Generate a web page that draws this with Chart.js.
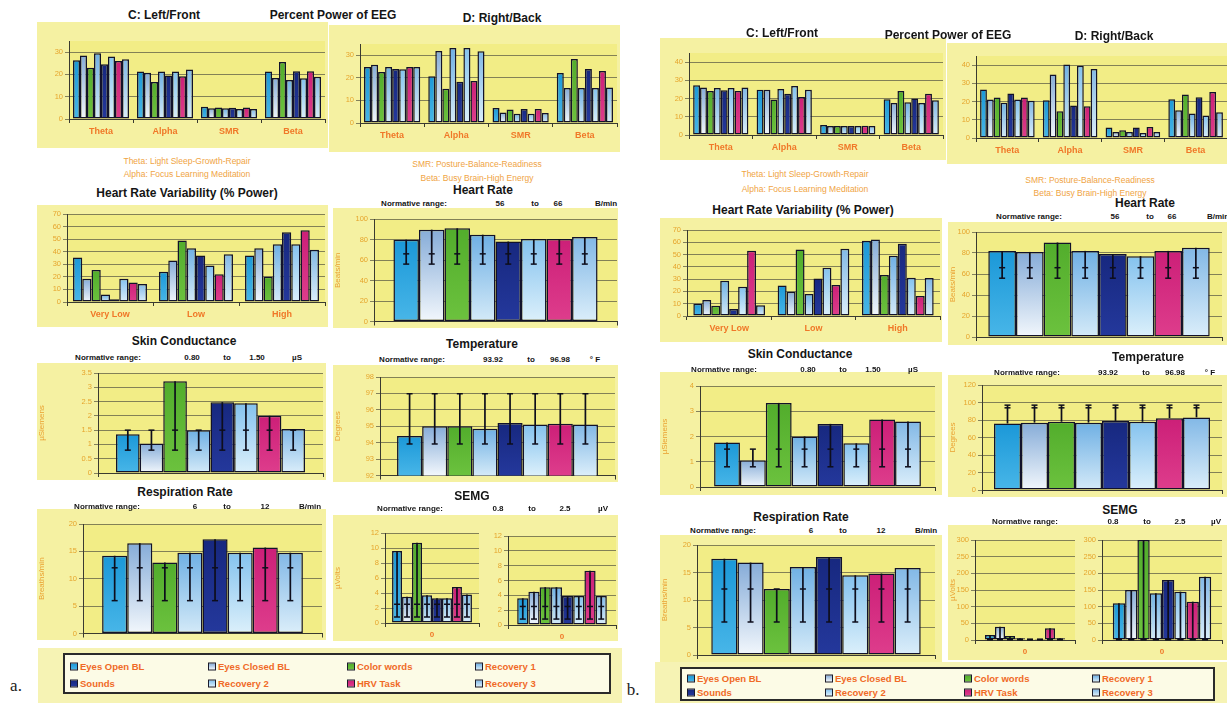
<!DOCTYPE html>
<html>
<head>
<meta charset="utf-8">
<script src="https://cdn.jsdelivr.net/npm/chart.js@4.4.1/dist/chart.umd.min.js"></script>
<style>
html,body{margin:0;padding:0;background:#fff;}
body{width:1227px;height:703px;position:relative;overflow:hidden;font-family:"Liberation Sans",Arial,sans-serif;}
canvas{position:absolute;background:#f5f1a2;}
.t{position:absolute;transform:translate(-50%,-50%);white-space:nowrap;}
.title{font-weight:bold;font-size:12px;color:#151515;}
.norm{font-weight:bold;font-size:8px;color:#151515;}
.cap{font-size:8.5px;color:#f0a444;}
.panel{font-family:"Liberation Serif","DejaVu Serif",serif;font-size:17px;color:#222;}
.legwrap{position:absolute;background:#f6f3b4;}
.legbox{position:absolute;border:2px solid #2a2a2a;background:#fcfbe6;box-sizing:border-box;}
.legitem{position:absolute;transform:translateY(-50%);font-weight:bold;font-size:9.5px;color:#f06a26;white-space:nowrap;}
.legitem i{display:inline-block;width:6px;height:6px;border:1px solid #1a1a2a;margin-right:2px;vertical-align:-1px;}
</style>
</head>
<body>
<script>
// ---- series and categories ----
const seriesNames = ['Eyes Open BL','Eyes Closed BL','Color words','Recovery 1','Sounds','Recovery 2','HRV Task','Recovery 3'];
const eegBands = ['Theta','Alpha','SMR','Beta'];
const hrvBands = ['Very Low','Low','High'];

// ---- normative ranges ----
const hrNorm = [56, 66];
const scNorm = [0.8, 1.5];
const tempNorm = [93.92, 96.98];
const respNorm = [6, 12];
const semgNorm = [0.8, 2.5];

// ---- panel a (values per band, in series order) ----
const aLeftFront = [
  [26.4, 28.5, 23.0, 29.5, 24.6, 28.0, 26.0, 26.8],
  [21.3, 20.7, 16.6, 21.3, 19.5, 21.3, 19.2, 22.2],
  [5.5, 4.8, 5.2, 4.8, 5.1, 4.5, 5.2, 4.5],
  [21.3, 18.4, 25.6, 17.5, 21.4, 18.3, 21.4, 19.0]
];
const aRightBack = [
  [24.8, 25.8, 22.6, 24.8, 23.9, 23.8, 24.8, 24.8],
  [20.7, 31.9, 15.2, 33.2, 18.3, 33.2, 18.6, 31.8],
  [6.6, 4.7, 6.0, 4.1, 6.2, 4.1, 6.2, 4.4],
  [22.2, 15.5, 28.4, 15.5, 23.9, 15.5, 23.0, 15.7]
];
const aHrv = [
  [35.3, 18.4, 25.4, 5.9, 2.1, 18.4, 15.5, 14.4],
  [24.0, 33.0, 49.0, 42.8, 37.0, 29.0, 22.0, 38.0],
  [37.0, 42.8, 20.0, 46.0, 55.5, 46.0, 57.0, 41.5]
];
const aHeartRate = [79.8, 89.6, 90.9, 84.7, 78.0, 80.5, 80.5, 82.4];
const aSkin = [1.36, 1.03, 3.21, 1.50, 2.48, 2.44, 2.00, 1.54];
const aTemp = [94.4, 95.0, 95.0, 94.85, 95.2, 95.1, 95.15, 95.1];
const aResp = [14.2, 16.5, 12.95, 14.75, 17.2, 14.75, 15.7, 14.75];
const aSemgLeft = [9.6, 3.5, 10.7, 3.7, 3.3, 3.3, 4.8, 3.8];
const aSemgRight = [3.6, 4.5, 5.1, 5.1, 3.9, 3.9, 7.3, 3.9];

// ---- panel b ----
const bLeftFront = [
  [27.3, 26.0, 24.2, 25.8, 24.5, 25.8, 24.2, 26.0],
  [24.9, 24.9, 19.5, 25.3, 22.7, 26.9, 20.9, 24.9],
  [5.5, 4.9, 4.9, 4.9, 4.9, 4.9, 5.1, 4.9],
  [19.6, 17.6, 24.2, 18.0, 20.0, 17.6, 22.7, 19.1]
];
const bRightBack = [
  [26.6, 21.1, 22.2, 19.3, 24.4, 21.1, 22.2, 20.4],
  [20.7, 34.9, 14.7, 40.4, 17.8, 39.6, 17.4, 37.8],
  [5.7, 3.3, 4.2, 3.3, 5.7, 2.8, 6.1, 3.3],
  [21.3, 15.2, 23.9, 13.4, 22.4, 12.3, 25.3, 14.1]
];
const bHrv = [
  [10.0, 13.0, 8.4, 28.7, 5.7, 23.8, 53.1, 8.7],
  [24.9, 19.8, 54.2, 17.9, 30.6, 39.3, 25.2, 54.7],
  [61.2, 62.3, 33.3, 49.0, 58.8, 31.2, 16.3, 30.9]
];
const bHeartRate = [82, 81, 90, 82, 79, 77, 82, 85];
const bSkin = [1.76, 1.06, 3.33, 2.00, 2.50, 1.73, 2.67, 2.59];
const bTemp = [76, 77, 78, 77, 79, 78, 82, 83];
const bResp = [17.5, 16.8, 12.0, 16.0, 17.8, 14.5, 14.8, 15.8];
const bSemgLeft = [15, 40, 12, 5, 2, 3, 35, 5];
const bSemgRight = [110, 150, 300, 140, 180, 145, 115, 190];

// ---- styling ----
const seriesFill = [
  ['#1b98d8', '#48b6e8'],
  ['#86acd8', '#f2f7fc'],
  ['#52ad2c', '#6cc23e'],
  ['#6fb0e4', '#d4eaf8'],
  ['#17287f', '#24389c'],
  ['#84c2ee', '#dcf0fb'],
  ['#cc1f78', '#de3d8c'],
  ['#82b8e6', '#dbeefa']
];
const tickColor = '#e6a52c';
const catColor = '#f07828';

Chart.defaults.font.family = '"Liberation Sans", Arial, sans-serif';

// fill the plot area a little deeper than the surrounding panel
const plotFill = {
  id: 'plotFill',
  beforeDraw(chart) {
    const { ctx, chartArea: a } = chart;
    ctx.save();
    ctx.fillStyle = '#f2ed86';
    ctx.fillRect(a.left, a.top, a.right - a.left, a.bottom - a.top);
    ctx.restore();
  }
};

// normative-range whiskers drawn over each bar
const normRange = {
  id: 'normRange',
  afterDatasetsDraw(chart, args, opts) {
    if (!opts || opts.low == null) return;
    const { ctx } = chart;
    const y = chart.scales.y;
    ctx.save();
    ctx.strokeStyle = '#0e0e1c';
    chart.data.datasets.forEach((ds, i) => {
      chart.getDatasetMeta(i).data.forEach((el, j) => {
        const v = ds.data[j];
        const lo = Math.min(v, opts.low), hi = Math.max(v, opts.high);
        const x = el.x;
        ctx.lineWidth = 1.7;
        ctx.beginPath();
        ctx.moveTo(x, y.getPixelForValue(lo));
        ctx.lineTo(x, y.getPixelForValue(hi));
        ctx.stroke();
        ctx.lineWidth = 1.5;
        [opts.low, opts.high].forEach(c => {
          const py = y.getPixelForValue(c);
          ctx.beginPath();
          ctx.moveTo(x - 3, py);
          ctx.lineTo(x + 3, py);
          ctx.stroke();
        });
      });
    });
    ctx.restore();
  }
};

function fmt(v) {
  return String(Math.round(v * 100) / 100);
}

function makeChart(cfg) {
  const { box, plot } = cfg;
  const cv = document.createElement('canvas');
  cv.width = box.w; cv.height = box.h;
  cv.style.left = box.x + 'px'; cv.style.top = box.y + 'px';
  cv.style.width = box.w + 'px'; cv.style.height = box.h + 'px';
  document.body.appendChild(cv);

  const padTop = plot.t - box.y;
  const padRight = box.x + box.w - plot.r;
  const yw = plot.l - box.x;
  const xh = box.y + box.h - plot.b;
  const grouped = cfg.labels.length > 1;

  const datasets = seriesNames.map((name, i) => ({
    label: name,
    data: grouped ? cfg.values.map(row => row[i]) : [cfg.values[i]],
    backgroundColor: (ctx) => {
      const [c0, c1] = seriesFill[i];
      const ys = ctx.chart.scales && ctx.chart.scales.y;
      if (!ys || ctx.raw == null) return c0;
      const top = ys.getPixelForValue(ctx.raw);
      const bot = ys.getPixelForValue(cfg.min);
      if (!isFinite(top) || !isFinite(bot) || Math.abs(bot - top) < 1) return c0;
      const g = ctx.chart.ctx.createLinearGradient(0, top, 0, bot);
      g.addColorStop(0, c0);
      g.addColorStop(1, c1);
      return g;
    },
    borderColor: '#12122a',
    borderWidth: 1.5,
    borderSkipped: false
  }));

  const step = cfg.step;
  new Chart(cv, {
    type: 'bar',
    data: { labels: cfg.labels, datasets },
    options: {
      responsive: false,
      animation: false,
      devicePixelRatio: 1,
      layout: { padding: { top: padTop, right: padRight, left: 0, bottom: 0 } },
      datasets: { bar: { categoryPercentage: cfg.catPct, barPercentage: 1 } },
      plugins: {
        legend: { display: false },
        tooltip: { enabled: false },
        normRange: cfg.norm ? { low: cfg.norm[0], high: cfg.norm[1] } : false
      },
      scales: {
        x: {
          grid: { display: true, drawOnChartArea: false, offset: true, tickLength: 4, color: '#3a3a30' },
          border: { color: '#3a3a30', width: 1 },
          ticks: {
            display: cfg.showX !== false,
            color: catColor,
            font: { size: cfg.catSize || 9, weight: 'bold' },
            padding: 3,
            maxRotation: 0,
            autoSkip: false
          },
          afterFit: s => { s.height = xh; }
        },
        y: {
          min: cfg.min,
          max: cfg.max,
          grid: { color: '#66654a', lineWidth: 0.8, tickLength: 4 },
          border: { color: '#3a3a30', width: 1 },
          ticks: { stepSize: step, color: tickColor, font: { size: 7.5 }, padding: 2, callback: v => fmt(v) },
          title: {
            display: !!cfg.yTitle,
            text: cfg.yTitle || '',
            color: '#eaa232',
            font: { size: 8 },
            padding: { top: 0, bottom: 0 }
          },
          afterBuildTicks: s => {
            s.ticks = s.ticks.filter(t => {
              const k = (t.value - cfg.min) / step;
              return Math.abs(k - Math.round(k)) < 1e-6;
            });
          },
          afterFit: s => { s.width = yw; }
        }
      }
    },
    plugins: [plotFill, normRange]
  });
}

function addText(x, y, text, cls) {
  const d = document.createElement('div');
  d.className = 't ' + cls;
  d.style.left = x + 'px';
  d.style.top = y + 'px';
  d.textContent = text;
  document.body.appendChild(d);
}

function addNorm(y, xs, vals) {
  ['Normative range:', ...vals].forEach((s, i) => addText(xs[i], y, s, 'norm'));
}

function addLegend(wrap, box, cols, rows) {
  const w = document.createElement('div');
  w.className = 'legwrap';
  Object.assign(w.style, { left: wrap.x + 'px', top: wrap.y + 'px', width: wrap.w + 'px', height: wrap.h + 'px' });
  document.body.appendChild(w);
  const b = document.createElement('div');
  b.className = 'legbox';
  Object.assign(b.style, { left: box.x + 'px', top: box.y + 'px', width: box.w + 'px', height: box.h + 'px' });
  document.body.appendChild(b);
  seriesNames.forEach((name, i) => {
    const it = document.createElement('div');
    it.className = 'legitem';
    it.style.left = cols[i % 4] + 'px';
    it.style.top = rows[Math.floor(i / 4)] + 'px';
    const m = document.createElement('i');
    m.style.background = `linear-gradient(${seriesFill[i][0]}, ${seriesFill[i][1]})`;
    it.appendChild(m);
    it.appendChild(document.createTextNode(name));
    document.body.appendChild(it);
  });
}

// ================= panel a =================
makeChart({ box: { x: 37, y: 22, w: 291, h: 126 }, plot: { l: 69, t: 41, r: 325, b: 119 },
  labels: eegBands, values: aLeftFront, min: 0, max: 35, step: 10, catPct: 0.875 });
makeChart({ box: { x: 329, y: 25, w: 291, h: 127 }, plot: { l: 360, t: 44, r: 617, b: 123 },
  labels: eegBands, values: aRightBack, min: 0, max: 35, step: 10, catPct: 0.875 });
makeChart({ box: { x: 37, y: 205, w: 291, h: 122 }, plot: { l: 67, t: 214, r: 325, b: 302 },
  labels: hrvBands, values: aHrv, min: 0, max: 70, step: 10, catPct: 0.86 });
makeChart({ box: { x: 333, y: 208, w: 285, h: 120 }, plot: { l: 374, t: 219, r: 617, b: 322 },
  labels: [''], values: aHeartRate, min: 0, max: 100, step: 20, catPct: 0.84, yTitle: 'Beats/min', norm: hrNorm, showX: false });
makeChart({ box: { x: 37, y: 363, w: 289, h: 117 }, plot: { l: 98, t: 373, r: 323, b: 473 },
  labels: [''], values: aSkin, min: 0, max: 3.5, step: 0.5, catPct: 0.84, yTitle: 'µSiemens', norm: scNorm, showX: false });
makeChart({ box: { x: 333, y: 365, w: 285, h: 117 }, plot: { l: 380, t: 377, r: 615, b: 476 },
  labels: [''], values: aTemp, min: 92, max: 98, step: 1, catPct: 0.855, yTitle: 'Degrees', norm: tempNorm, showX: false });
makeChart({ box: { x: 37, y: 509, w: 289, h: 131 }, plot: { l: 83, t: 524, r: 322, b: 635 },
  labels: [''], values: aResp, min: 0, max: 20, step: 5, catPct: 0.84, yTitle: 'Breaths/min', norm: respNorm, showX: false });
makeChart({ box: { x: 333, y: 515, w: 148, h: 126 }, plot: { l: 385, t: 533, r: 479, b: 623 },
  labels: ['0'], values: aSemgLeft, min: 0, max: 12, step: 2, catPct: 0.85, yTitle: 'µVolts', norm: semgNorm, catSize: 8 });
makeChart({ box: { x: 481, y: 515, w: 137, h: 126 }, plot: { l: 508, t: 536, r: 616, b: 625 },
  labels: ['0'], values: aSemgRight, min: 0, max: 12, step: 2, catPct: 0.83, norm: semgNorm, catSize: 8 });

addText(164, 15, 'C: Left/Front', 'title');
addText(333, 15, 'Percent Power of EEG', 'title');
addText(502, 18, 'D: Right/Back', 'title');
addText(187, 161, 'Theta: Light Sleep-Growth-Repair', 'cap');
addText(187, 174, 'Alpha: Focus Learning Meditation', 'cap');
addText(477, 164, 'SMR: Posture-Balance-Readiness', 'cap');
addText(477, 178, 'Beta: Busy Brain-High Energy', 'cap');
addText(187, 193, 'Heart Rate Variability (% Power)', 'title');
addText(483, 190, 'Heart Rate', 'title');
addNorm(203, [414, 500, 535, 558, 606], ['56', 'to', '66', 'B/min']);
addText(184, 341, 'Skin Conductance', 'title');
addNorm(357, [108, 192, 227, 257, 297], ['0.80', 'to', '1.50', 'µS']);
addText(482, 344, 'Temperature', 'title');
addNorm(359, [412, 493, 531, 560, 595], ['93.92', 'to', '96.98', '° F']);
addText(185, 492, 'Respiration Rate', 'title');
addNorm(506, [107, 195, 227, 265, 310], ['6', 'to', '12', 'B/min']);
addText(472, 496, 'SEMG', 'title');
addNorm(508, [410, 498, 532, 565, 603], ['0.8', 'to', '2.5', 'µV']);
addLegend({ x: 38, y: 648, w: 584, h: 55 }, { x: 63, y: 653, w: 548, h: 41 }, [70, 208, 347, 475], [666, 683]);
addText(16, 686, 'a.', 'panel');

// ================= panel b =================
makeChart({ box: { x: 660, y: 38, w: 286, h: 122 }, plot: { l: 689, t: 53, r: 943, b: 135 },
  labels: eegBands, values: bLeftFront, min: 0, max: 45, step: 10, catPct: 0.87 });
makeChart({ box: { x: 947, y: 43, w: 280, h: 121 }, plot: { l: 976, t: 56, r: 1227, b: 138 },
  labels: eegBands, values: bRightBack, min: 0, max: 45, step: 10, catPct: 0.87 });
makeChart({ box: { x: 660, y: 218, w: 282, h: 124 }, plot: { l: 687, t: 230, r: 940, b: 316 },
  labels: hrvBands, values: bHrv, min: 0, max: 70, step: 10, catPct: 0.85 });
makeChart({ box: { x: 948, y: 222, w: 279, h: 123 }, plot: { l: 976, t: 232, r: 1222, b: 337 },
  labels: [''], values: bHeartRate, min: 0, max: 100, step: 20, catPct: 0.9, yTitle: 'Beats/min', norm: hrNorm, showX: false });
makeChart({ box: { x: 660, y: 372, w: 282, h: 123 }, plot: { l: 700, t: 386, r: 935, b: 487 },
  labels: [''], values: bSkin, min: 0, max: 4, step: 1, catPct: 0.88, yTitle: 'µSiemens', norm: scNorm, showX: false });
makeChart({ box: { x: 948, y: 375, w: 279, h: 122 }, plot: { l: 982, t: 385, r: 1222, b: 490 },
  labels: [''], values: bTemp, min: 0, max: 120, step: 20, catPct: 0.9, yTitle: 'Degrees', norm: tempNorm, showX: false });
makeChart({ box: { x: 660, y: 535, w: 282, h: 127 }, plot: { l: 697, t: 545, r: 935, b: 655 },
  labels: [''], values: bResp, min: 0, max: 20, step: 5, catPct: 0.88, yTitle: 'Breaths/min', norm: respNorm, showX: false });
makeChart({ box: { x: 948, y: 525, w: 135, h: 135 }, plot: { l: 975, t: 540, r: 1075, b: 640 },
  labels: ['0'], values: bSemgLeft, min: 0, max: 300, step: 50, catPct: 0.8, yTitle: 'µVolts', norm: semgNorm, catSize: 8 });
makeChart({ box: { x: 1083, y: 525, w: 144, h: 135 }, plot: { l: 1102, t: 540, r: 1222, b: 640 },
  labels: ['0'], values: bSemgRight, min: 0, max: 300, step: 50, catPct: 0.82, norm: semgNorm, catSize: 8 });

addText(782, 33, 'C: Left/Front', 'title');
addText(948, 35, 'Percent Power of EEG', 'title');
addText(1114, 36, 'D: Right/Back', 'title');
addText(805, 174, 'Theta: Light Sleep-Growth-Repair', 'cap');
addText(805, 189, 'Alpha: Focus Learning Meditation', 'cap');
addText(1090, 180, 'SMR: Posture-Balance-Readiness', 'cap');
addText(1090, 193, 'Beta: Busy Brain-High Energy', 'cap');
addText(803, 210, 'Heart Rate Variability (% Power)', 'title');
addText(1145, 203, 'Heart Rate', 'title');
addNorm(216, [1029, 1115, 1150, 1172, 1218], ['56', 'to', '66', 'B/min']);
addText(800, 354, 'Skin Conductance', 'title');
addNorm(369, [724, 808, 843, 873, 913], ['0.80', 'to', '1.50', 'µS']);
addText(1148, 357, 'Temperature', 'title');
addNorm(372, [1027, 1108, 1146, 1175, 1210], ['93.92', 'to', '96.98', '° F']);
addText(801, 517, 'Respiration Rate', 'title');
addNorm(530, [723, 811, 843, 881, 926], ['6', 'to', '12', 'B/min']);
addText(1120, 510, 'SEMG', 'title');
addNorm(521, [1025, 1113, 1147, 1180, 1216], ['0.8', 'to', '2.5', 'µV']);
addLegend({ x: 655, y: 662, w: 572, h: 41 }, { x: 680, y: 667, w: 535, h: 34 }, [687, 825, 964, 1092], [678, 692]);
addText(633, 690, 'b.', 'panel');
</script>
</body>
</html>
